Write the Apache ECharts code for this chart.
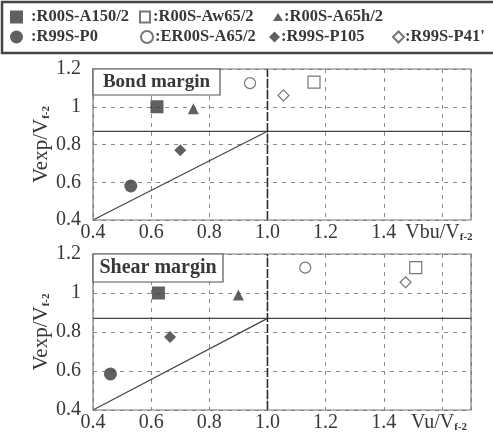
<!DOCTYPE html>
<html><head><meta charset="utf-8">
<script src="https://cdn.jsdelivr.net/npm/echarts@6/dist/echarts.min.js"></script>
<style>html,body{margin:0;padding:0;background:#fff}#c{width:493px;height:433px}</style>
</head><body><div id="c"></div>
<script>
// ---- data ----
const specimens = ['R00S-A150/2', 'R00S-Aw65/2', 'R00S-A65h/2', 'R99S-P0', 'ER00S-A65/2', 'R99S-P105', "R99S-P41'"];
const bondX  = [0.62, 1.16, 0.745, 0.53, 0.94, 0.70, 1.055];
const bondY  = [1.00, 1.13, 0.99, 0.58, 1.125, 0.77, 1.06];
const shearX = [0.625, 1.51, 0.90, 0.46, 1.13, 0.665, 1.475];
const shearY = [1.00, 1.13, 0.99, 0.585, 1.13, 0.775, 1.055];
const limitX = [0.4, 1.0];          // diagonal reference line
const limitY = [0.4, 0.87];
const levelY = 0.87;                // horizontal reference
const xTicks = ['0.4', '0.6', '0.8', '1.0', '1.2', '1.4'];
const yTicks = ['0.4', '0.6', '0.8', '1', '1.2'];
const panelTitles = ['Bond margin', 'Shear margin'];
const xNames = ['Vbu/V', 'Vu/V'];

// ---- styles ----
const FONT = '"Liberation Serif","DejaVu Serif",serif';
const INK = '#383838';
const markerStyle = [
  {symbol: 'rect', size: 13, fill: true},
  {symbol: 'rect', size: 12, fill: false},
  {symbol: 'triangle', size: 11, fill: true},
  {symbol: 'circle', size: 13, fill: true},
  {symbol: 'circle', size: 11, fill: false},
  {symbol: 'diamond', size: 12, fill: true},
  {symbol: 'diamond', size: 11, fill: false}
];
function itemStyleFor(m) {
  return m.fill ? {color: INK, borderColor: INK, borderWidth: 0}
                : {color: '#fff', borderColor: '#555', borderWidth: 1.2};
}

const grids = [
  {left: 93, right: 22, top: 69, height: 151},
  {left: 93, right: 22, top: 254, height: 156}
];

const xAxes = grids.map((g, i) => ({
  gridIndex: i, type: 'value', min: 0.4, max: 1.7, interval: 0.2,
  axisLine: {show: false}, axisTick: {show: false},
  splitLine: {show: true, lineStyle: {color: '#8a8a8a', type: [4, 5], width: 1}},
  axisLabel: {
    showMaxLabel: false, margin: 3, color: INK, fontFamily: FONT, fontSize: 20,
    formatter: v => {
      const idx = Math.round((v - 0.4) / 0.2);
      if (idx < xTicks.length) return xTicks[idx];
      if (idx === 6) return '{n|' + xNames[i] + '}{s|f-2}';
      return '';
    },
    rich: {
      n: {fontFamily: FONT, fontSize: 20, color: INK, lineHeight: 20, verticalAlign: 'bottom'},
      s: {fontFamily: FONT, fontSize: 11, fontWeight: 'bold', color: INK, lineHeight: 8, verticalAlign: 'bottom', padding: [0, 6, 0, 0]}
    }
  }
}));

const yAxes = grids.map((g, i) => ({
  gridIndex: i, type: 'value', min: 0.4, max: 1.2, interval: 0.2,
  axisLine: {show: false}, axisTick: {show: false},
  splitLine: {show: true, lineStyle: {color: '#8a8a8a', type: [4, 5], width: 1}},
  name: '{n|Vexp/V}{s|f-2}', nameLocation: 'middle', nameGap: 41, nameRotate: 90,
  nameMoveOverlap: false,
  nameTextStyle: {
    rich: {
      n: {fontFamily: FONT, fontSize: 21, color: INK, lineHeight: 21, verticalAlign: 'bottom'},
      s: {fontFamily: FONT, fontSize: 11, fontWeight: 'bold', color: INK, lineHeight: 8, verticalAlign: 'bottom'}
    }
  },
  axisLabel: {
    margin: 12, color: INK, fontFamily: FONT, fontSize: 20,
    formatter: v => yTicks[Math.round((v - 0.4) / 0.2)] || ''
  }
}));

const series = [];
[[bondX, bondY], [shearX, shearY]].forEach(([xs, ys], gi) => {
  series.push({
    type: 'line', xAxisIndex: gi, yAxisIndex: gi, symbol: 'none', silent: true,
    data: limitX.map((x, k) => [x, limitY[k]]),
    lineStyle: {color: '#444', width: 1.2}, z: 3
  });
  series.push({
    type: 'line', xAxisIndex: gi, yAxisIndex: gi, symbol: 'none', silent: true,
    data: [[0.4, levelY], [1.7, levelY]],
    lineStyle: {color: '#444', width: 1.2}, z: 3
  });
  series.push({
    type: 'line', xAxisIndex: gi, yAxisIndex: gi, symbol: 'none', silent: true,
    data: [[1.0, 0.4], [1.0, 1.2]],
    lineStyle: {color: '#2a2a2a', width: 1.6, type: [9, 2]}, z: 3
  });
  specimens.forEach((name, k) => {
    const m = markerStyle[k];
    series.push({
      type: 'scatter', name, xAxisIndex: gi, yAxisIndex: gi,
      symbol: m.symbol, symbolSize: m.size,
      itemStyle: itemStyleFor(m),
      data: [[xs[k], ys[k]]], z: 5
    });
  });
});

// legend layout: [left, centerY, iconW, iconH, textPad]
const legendLayout = [
  [10, 17, 13, 13, 3], [139, 17, 10, 11, -2], [273, 17, 10, 8, -4],
  [10, 37, 13, 13, 3], [140, 37, 12, 12, -3], [269, 37, 11, 11, -4], [392, 37, 11, 11, -4]
];
const legends = specimens.map((name, k) => {
  const m = markerStyle[k];
  const L = legendLayout[k];
  return {
    data: [{name, icon: m.symbol}],
    left: L[0], top: L[1] - 9,
    itemWidth: L[2], itemHeight: L[3], itemGap: 0,
    padding: 0,
    formatter: n => ':' + n,
    textStyle: {fontFamily: FONT, fontSize: 16.5, fontWeight: 'bold', color: INK, lineHeight: 18, padding: [0, 0, 0, L[4]]},
    selectedMode: false
  };
});

const graphics = [
  {type: 'rect', shape: {x: 2, y: 2, width: 500, height: 51}, style: {fill: 'none', stroke: '#444', lineWidth: 2.5}, z: 10},
  {type: 'rect', shape: {x: 93, y: 69, width: 378, height: 151}, style: {fill: 'none', stroke: '#777', lineWidth: 1.2}, z: 10},
  {type: 'rect', shape: {x: 93, y: 254, width: 378, height: 156}, style: {fill: 'none', stroke: '#777', lineWidth: 1.2}, z: 10},
  {type: 'rect', shape: {x: 93, y: 69, width: 127, height: 26}, style: {fill: '#fff', stroke: '#555', lineWidth: 1.2}, z: 11},
  {type: 'text', x: 156.5, y: 82, style: {text: panelTitles[0], font: 'bold 19px ' + FONT, fill: INK, textAlign: 'center', textVerticalAlign: 'middle'}, z: 12},
  {type: 'rect', shape: {x: 93, y: 254, width: 130, height: 28}, style: {fill: '#fff', stroke: '#555', lineWidth: 1.2}, z: 11},
  {type: 'text', x: 158, y: 268, style: {text: panelTitles[1], font: 'bold 20px ' + FONT, fill: INK, textAlign: 'center', textVerticalAlign: 'middle'}, z: 12}
];

const chart = echarts.init(document.getElementById('c'), null, {renderer: 'canvas'});
chart.setOption({
  animation: false,
  backgroundColor: '#fff',
  grid: grids,
  xAxis: xAxes,
  yAxis: yAxes,
  legend: legends,
  series,
  graphic: graphics
});
</script></body></html>
